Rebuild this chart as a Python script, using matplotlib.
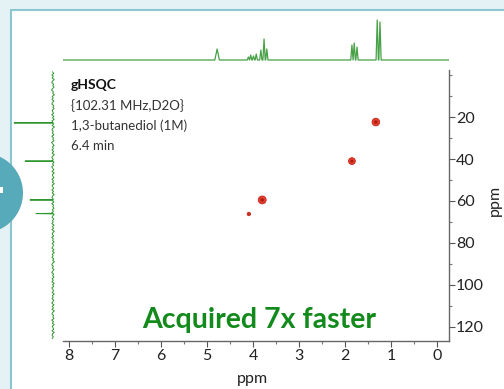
import numpy as np
import matplotlib.pyplot as plt
from matplotlib.patches import Rectangle, Ellipse

# ------------------------------------------------------------------
# data
# ------------------------------------------------------------------
# 1H projection (top): peak position (ppm) and height (px above baseline)
h_peak_ppm = [4.78, 4.10, 4.05, 3.99, 3.93, 3.83, 3.76, 3.70, 1.85, 1.80, 1.74, 1.30, 1.24]
h_peak_height = [11, 3, 5, 4, 6, 10, 21, 11, 15, 17, 13, 40, 38]
h_peak_halfwidth = [0.05, 0.025, 0.025, 0.025, 0.025, 0.025, 0.025, 0.025,
                    0.025, 0.025, 0.025, 0.025, 0.025]

# 13C projection (left): peak position (ppm) and length (px)
c_peak_ppm = [22.8, 41.0, 59.5, 66.0]
c_peak_height = [39, 28, 23, 17]

# baseline noise of the 13C projection (px)
c_noise = [0.4, -0.8, 1.1, -0.3, 0.9, -1.2, 0.5, 1.3, -0.6, 0.2, -1.0, 0.7, 1.4, -0.4, 0.3,
           -1.3, 0.8, -0.2, 1.0, -0.9, 0.6, 1.2, -0.7, 0.1, -1.1, 0.9, 0.3, -0.5, 1.3, -0.8,
           0.4, -1.2, 1.1, 0.2, -0.6, 0.8, -1.4, 0.5, 1.0, -0.3, 0.7, -1.0, 1.2, -0.5, 0.2,
           -0.9, 1.4, 0.3, -1.1, 0.6, -0.4, 1.1, -0.7, 0.9, -1.3, 0.4, 1.2, -0.2, 0.8, -1.0,
           0.5, -0.6, 1.3, 0.1, -0.8, 1.0, -1.2, 0.7, 0.3, -0.9, 1.1, -0.4, 0.6, -1.3, 0.9,
           0.2, -0.7, 1.2, -0.5, 0.8, -1.1, 0.4, 1.0, -0.3, 0.6, -0.9, 1.3, -0.6, 0.2, -1.0,
           0.7, -0.4, 1.1, -1.2, 0.3, 0.9, -0.8, 0.5, -0.2, 1.2, -1.0, 0.6, -0.5, 1.0, -1.3,
           0.2, 0.8, -0.7, 1.3, -0.3, 0.4, -1.1, 0.9, -0.6, 0.1, 1.1, -0.9, 0.5, -1.2, 0.7,
           -0.1, 1.0, -0.8, 0.3, -1.4, 0.6, 1.2, -0.4, 0.8, -0.9, 0.2, 1.3, -0.6, 0.4, -1.0,
           0.9, -0.3, 1.1, -1.1, 0.5, -0.7, 1.2, 0.1, -0.5, 0.8, -1.2, 0.6, -0.2, 1.0, -0.8,
           0.3, 1.2, -1.0, 0.7, -0.4, 0.9, -1.3, 0.4, 1.1, -0.6, 0.2, -0.9, 1.3, -0.5, 0.6,
           -1.1, 0.8, 0.1, -0.7, 1.0, -1.2, 0.5, 0.9, -0.3, 0.7]

# HSQC cross peaks
xpk_h = [1.33, 1.85, 3.80, 4.09]
xpk_c = [22.4, 41.0, 59.5, 66.2]
xpk_size = [30, 24, 32, 6]

x_ticks = [0, 1, 2, 3, 4, 5, 6, 7, 8]
y_ticks = [20, 40, 60, 80, 100, 120]

info_lines = ["{102.31 MHz,D2O}", "1,3-butanediol (1M)", "6.4 min"]

# ------------------------------------------------------------------
W, H = 504, 389
def fx(x):
    return x / W
def fy(y):
    return 1 - y / H

plt.rcParams['font.family'] = ['Lato', 'DejaVu Sans']

fig = plt.figure(figsize=(5.04, 3.89), dpi=100)
fig.patch.set_facecolor('#e4f1f5')

# white panel and teal circle decoration
fig.patches.append(Rectangle((fx(11), -0.1), 1, fy(10) + 0.1, transform=fig.transFigure,
                             facecolor='white', edgecolor='#8cc6d0', lw=1.5, zorder=-3))
fig.patches.append(Ellipse((fx(-17), fy(193)), 80 / W, 80 / H, transform=fig.transFigure,
                           facecolor='#56aab9', edgecolor='none', zorder=-2))
fig.patches.append(Rectangle((fx(-30), fy(193)), 33 / W, 6 / H, transform=fig.transFigure,
                             facecolor='white', edgecolor='none', zorder=-1))

xlim = (8.13, -0.26)
ylim = (126.7, -2.4)
ax_l, ax_r, ax_t, ax_b = 63, 449, 70, 341

# main 2D axes
ax = fig.add_axes([fx(ax_l), fy(ax_b), (ax_r - ax_l) / W, (ax_b - ax_t) / H])
ax.set_facecolor('none')
ax.set_xlim(*xlim)
ax.set_ylim(*ylim)
ax.scatter(xpk_h, xpk_c, s=xpk_size, c='#e2402c', edgecolors='#c42418', linewidths=0.6,
           marker='o', zorder=3)
ax.scatter(xpk_h, xpk_c, s=[v * 0.2 for v in xpk_size], c='#b01a12', edgecolors='none',
           zorder=4)

for s in ['top', 'left']:
    ax.spines[s].set_visible(False)
for s in ['bottom', 'right']:
    ax.spines[s].set_color('#666666')
    ax.spines[s].set_linewidth(1.0)

ax.yaxis.tick_right()
ax.yaxis.set_label_position('right')
ax.set_xticks(x_ticks)
ax.set_xticks(np.arange(0.5, 8.1, 1.0), minor=True)
ax.set_yticks(y_ticks)
ax.set_yticks([0, 10, 30, 50, 70, 90, 110], minor=True)
ax.tick_params(which='major', length=4, width=0.8, color='#555555', labelsize=11.5,
               labelcolor='#222222', pad=2)
ax.tick_params(which='minor', length=2, width=0.8, color='#777777')
ax.tick_params(axis='y', pad=1)
ax.set_xlabel('ppm', fontsize=11.5, color='#222222')
ax.set_ylabel('ppm', fontsize=11.5, color='#222222')
ax.xaxis.set_label_coords(0.49, -0.115)
ax.yaxis.set_label_coords(1.10, 0.52)

# top 1H projection
axt = fig.add_axes([fx(ax_l), fy(62), (ax_r - ax_l) / W, 47 / H])
axt.set_facecolor('none')
tx, ty = [xlim[0]], [0]
for p, h, w in zip(h_peak_ppm, h_peak_height, h_peak_halfwidth):
    tx += [p + w, p, p - w]
    ty += [0, h, 0]
tx.append(xlim[1])
ty.append(0)
axt.plot(tx, ty, color='#46a046', lw=0.9)
axt.set_xlim(*xlim)
axt.set_ylim(-2, 45)
axt.axis('off')

# left 13C projection
axs = fig.add_axes([fx(10), fy(ax_b), 50 / W, (ax_b - ax_t) / H])
axs.set_facecolor('none')
grid = np.linspace(-1.5, 125.5, len(c_noise))
cy = list(grid)
cx = list(c_noise)
for p, h in zip(c_peak_ppm, c_peak_height):
    cy += [p - 0.15, p, p + 0.15]
    cx += [0, h, 0]
order = np.argsort(cy)
axs.plot(np.array(cx)[order], np.array(cy)[order], color='#2f962f', lw=0.7)
axs.set_xlim(43, -7)
axs.set_ylim(*ylim)
axs.axis('off')

# annotation text
fig.text(fx(71), fy(85), "gHSQC", fontsize=10, fontweight='bold', color='#111111', va='center')
for i, line in enumerate(info_lines):
    fig.text(fx(71), fy(106 + 20 * i), line, fontsize=9.5, color='#333333', va='center')
fig.text(fx(259), fy(328), "Acquired 7x faster", fontsize=20.5, fontweight='bold',
         color='#138a1c', ha='center', va='baseline')

fig.savefig('out.png', dpi=100, facecolor=fig.get_facecolor())
